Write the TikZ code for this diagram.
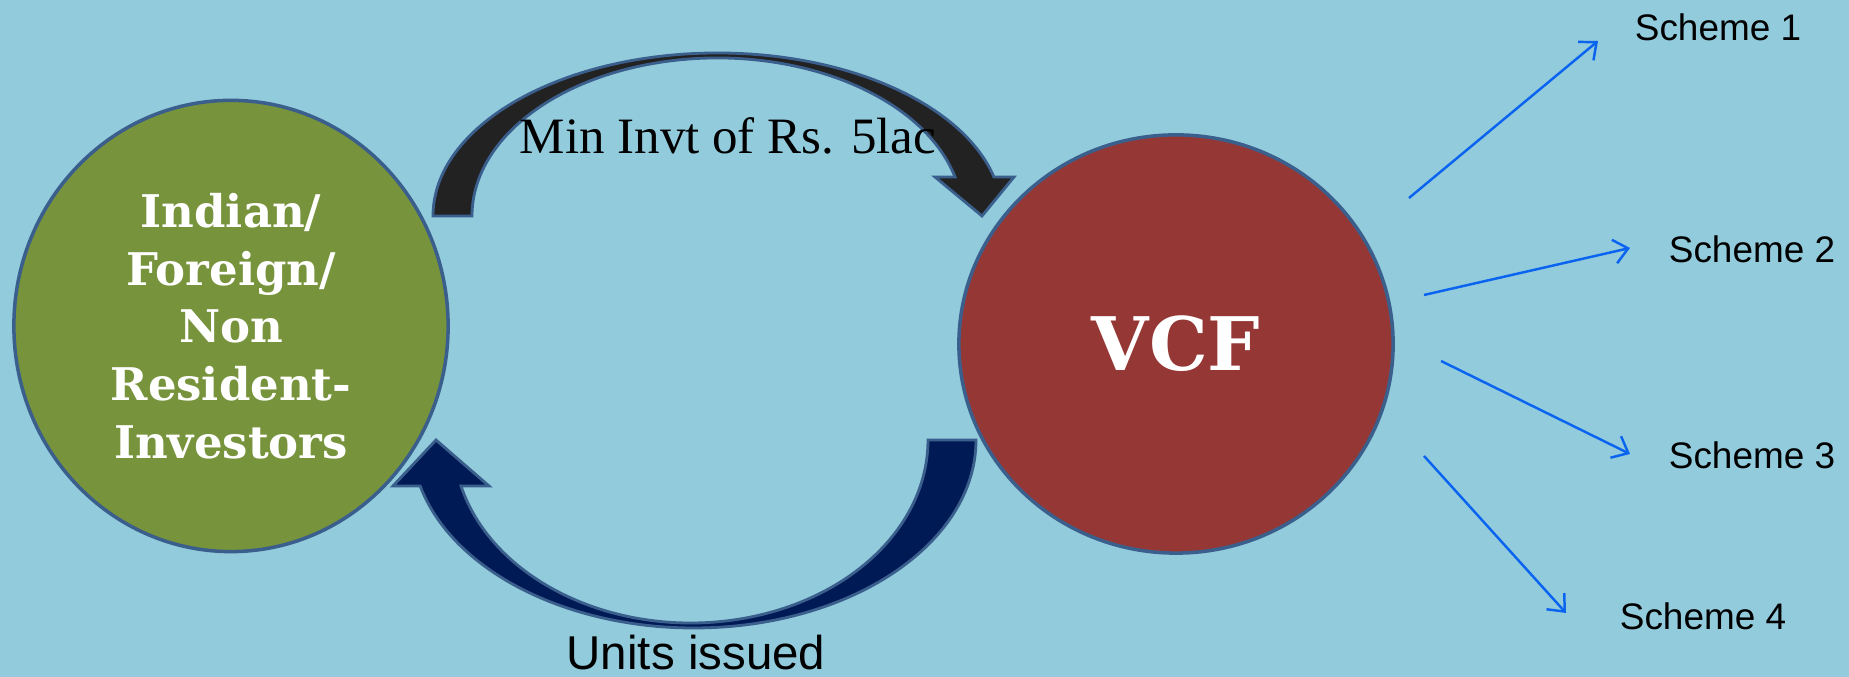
\documentclass[tikz,border=0pt]{standalone}
\usepackage{fontspec}
\setmainfont{Liberation Serif}
\setsansfont{Liberation Sans}
\newfontfamily\circfont{DejaVu Serif}
\usetikzlibrary{arrows.meta,shapes.geometric}

\definecolor{skyback}{HTML}{92CBDC}
\definecolor{investgreen}{HTML}{77933C}
\definecolor{vcfred}{HTML}{953735}
\definecolor{rimblue}{HTML}{3B5F8C}
\definecolor{flowblack}{HTML}{222222}
\definecolor{flownavy}{HTML}{001A55}
\definecolor{schemeblue}{HTML}{0A64F0}

\begin{document}
\begin{tikzpicture}[
    x=0.01cm, y=0.01cm,
    party/.style={ellipse, draw=rimblue, line width=1pt, text=white, align=center, inner sep=0pt},
    bandarrow/.style={draw=rimblue, line width=.8pt, line join=miter},
    fan/.style={-{Straight Barb[length=1.4mm,width=2.4mm]}, draw=schemeblue, line width=.7pt},
    scheme/.style={font=\sffamily\fontsize{10.5}{12}\selectfont, anchor=base}
  ]
    \fill[skyback] (0,0) rectangle (1849,677);
    \useasboundingbox (0,0) rectangle (1849,677);

    \node[party, fill=investgreen, minimum width=4.34cm, minimum height=4.51cm,
          font=\circfont\bfseries\fontsize{12.8}{16.4}\selectfont] (investors) at (231,351)
      {Indian/\\Foreign/\\Non\\Resident-\\Investors};
    \node[party, fill=vcfred, minimum width=4.34cm, minimum height=4.18cm,
          font=\circfont\bfseries\fontsize{21}{25}\selectfont] (vcf) at (1176,333) {VCF};

    % money in, over the top
    \filldraw[bandarrow, fill=flowblack] (433,461)
      arc[start angle=180, end angle=13.84, x radius=284.6, y radius=163]
      -- (1014,500) -- (982,461) -- (935,500) -- (955,500)
      arc[start angle=14.29, end angle=180, x radius=245.3, y radius=158] -- cycle;
    \node[anchor=base, font=\fontsize{14.5}{17}\selectfont] (mininvt) at (728,523) {Min Invt of Rs. 5lac};

    % units back, underneath
    \filldraw[bandarrow, fill=flownavy] (976,237)
      arc[start angle=0, end angle=-165.82, x radius=282.2, y radius=188]
      -- (393,191) -- (436,237) -- (489,191) -- (461,191)
      arc[start angle=-165.44, end angle=0, x radius=237.3, y radius=183] -- cycle;
    \node[anchor=base, font=\sffamily\fontsize{13.5}{16}\selectfont] (units) at (696,7) {Units issued};

    \node[scheme] (scheme1) at (1718,636) {Scheme 1};
    \node[scheme] (scheme2) at (1752,414) {Scheme 2};
    \node[scheme] (scheme3) at (1752,208) {Scheme 3};
    \node[scheme] (scheme4) at (1703,47) {Scheme 4};

    \coordinate (out1) at (1409,479);  \coordinate (in1) at (1598,636);
    \coordinate (out2) at (1424,382);  \coordinate (in2) at (1630,429);
    \coordinate (out3) at (1441,316);  \coordinate (in3) at (1630,223);
    \coordinate (out4) at (1424,221);  \coordinate (in4) at (1566,64);
    \foreach \i in {1,...,4}
      \draw[fan] (out\i) -- (in\i);
  \end{tikzpicture}
\end{document}
